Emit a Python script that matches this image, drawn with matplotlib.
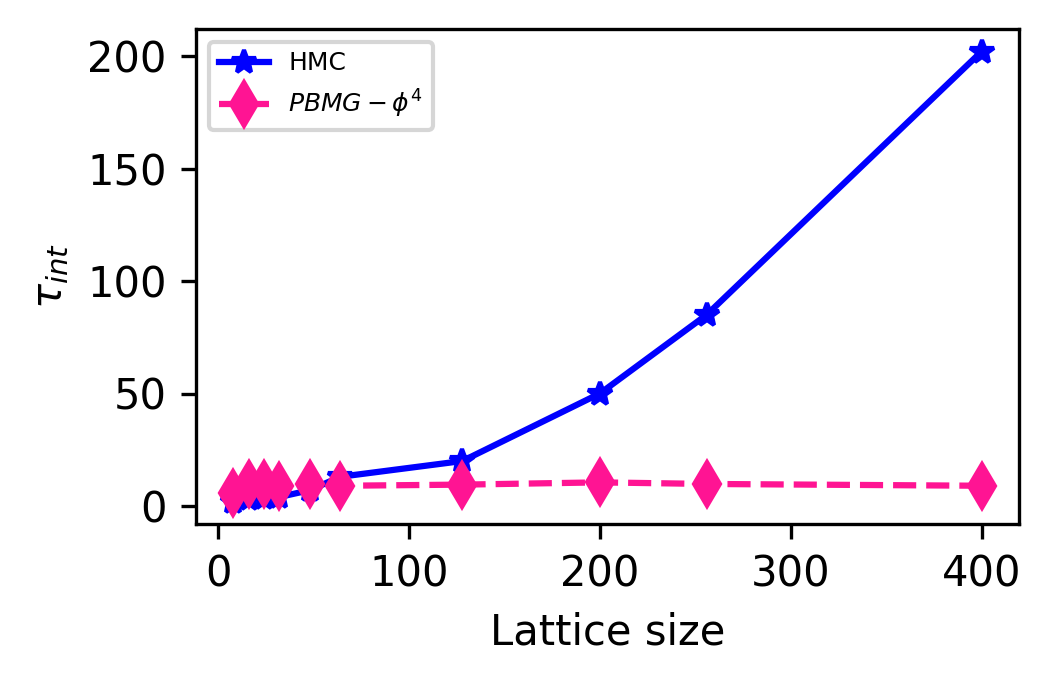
import numpy as np
import matplotlib.pyplot as plt

# lattice sizes
L = [8, 16, 24, 32, 48, 64, 128, 200, 256, 400]

# integrated autocorrelation time
tau_hmc = [2, 3, 3.5, 4, 7, 13, 20, 50, 85, 202]
tau_pbmg = [6, 10, 10, 9, 10, 9, 9.5, 10.5, 9.8, 9]


def main():
    fig = plt.figure(figsize=(1051 / 300, 681 / 300), dpi=300)
    ax = fig.add_axes([196 / 1051, 1 - 524 / 681, (1019 - 196) / 1051, (524 - 29) / 681])

    ax.plot(L, tau_hmc, 'b-*', label='HMC')
    ax.plot(L, tau_pbmg, '--d', color='deeppink', markersize=7.5, linewidth=1.5,
            label=r'$PBMG-\phi^4$')

    ax.set_xlabel('Lattice size')
    ax.set_ylabel(r'$\tau_{int}$')
    ax.legend(loc='upper left', fontsize=6)

    fig.savefig('out.png', dpi=300)


if __name__ == '__main__':
    main()
